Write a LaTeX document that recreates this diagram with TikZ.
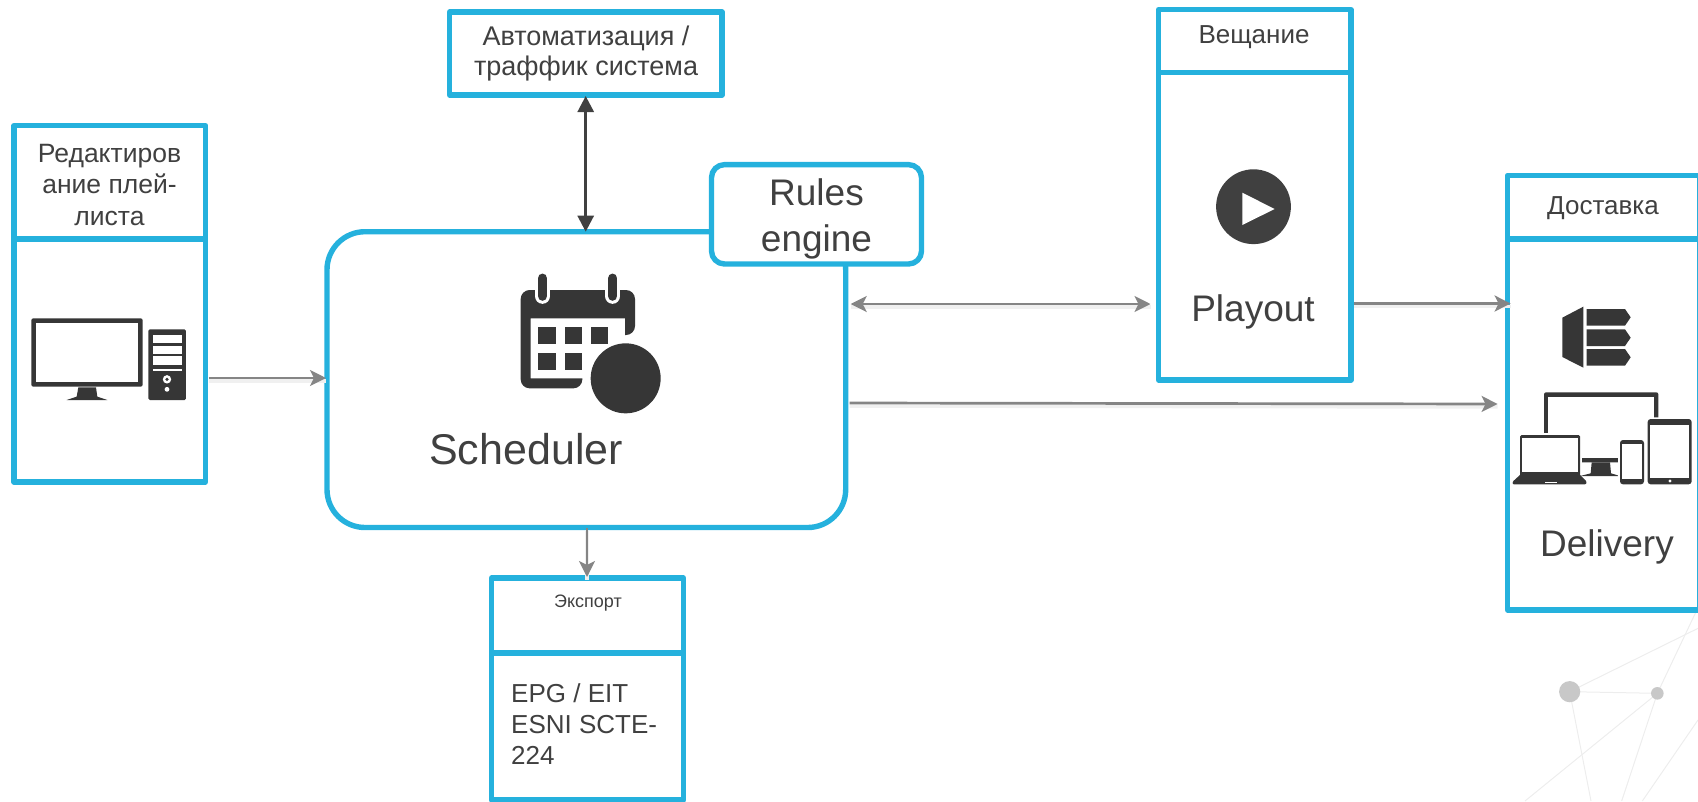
\documentclass[tikz,border=0pt]{standalone}
\usepackage{fontspec}
\setmainfont{Liberation Sans}
\usetikzlibrary{arrows.meta,fit}
\definecolor{bluec}{HTML}{25B1DD}
\definecolor{textc}{HTML}{404040}
\definecolor{greyc}{HTML}{858585}
\definecolor{iconc}{HTML}{363636}
\definecolor{decoc}{HTML}{EDEDED}
\definecolor{dotc}{HTML}{C8C8C8}
\tikzset{
  boxn/.style={draw=bluec,line width=5.4pt,fill=white,inner sep=0pt,outer sep=0pt,line join=round},
  roundn/.style={boxn,rounded corners=#1},
  divider/.style={draw=bluec,line width=5.4pt},
  lab/.style 2 args={text=textc,align=center,inner sep=0pt,font=\fontsize{#1}{#2}\selectfont},
  labl/.style={text=textc,align=left,inner sep=0pt,font=\fontsize{26}{31}\selectfont},
  garrow/.style={draw=greyc,line width=2.7pt,-{Stealth[length=16pt,width=16pt,inset=4pt]},
    preaction={draw=black!6,line width=3.5pt,arrows=-,transform canvas={yshift=-3pt}}},
  garrowb/.style={draw=greyc,line width=2.7pt,{Stealth[length=16pt,width=16pt,inset=4pt]}-{Stealth[length=16pt,width=16pt,inset=4pt]},
    preaction={draw=black!6,line width=3.5pt,arrows=-,transform canvas={yshift=-3pt}}},
  darrow/.style={draw=textc,line width=2.7pt,{Triangle[length=16pt,width=16pt]}-{Triangle[length=16pt,width=16pt]}},
  icon/.style={fill=iconc,draw=none},
  whitef/.style={fill=white,draw=none},
  deco/.style={draw=decoc,line width=1pt},
  dot/.style={fill=dotc,draw=none},
}
\begin{document}
\begin{tikzpicture}[x=1pt,y=-1pt]
\useasboundingbox (0,0) rectangle (1698,801);
% background network
\begin{scope}[shift={(1480,600)},x=0.33333pt,y=-0.33333pt]
  \coordinate (big) at (269,275);
  \coordinate (small) at (532,280);
  \draw[deco] (big) -- (small);
  \draw[deco] (big) -- (654,85);
  \draw[deco] (big) -- (333,603);
  \draw[deco] (small) -- (660,10);
  \draw[deco] (small) -- (135,603);
  \draw[deco] (small) -- (425,603);
  \draw[deco] (487,603) -- (654,360);
  \fill[dot] (big) circle (10.6pt);
  \fill[dot] (small) circle (6.3pt);
\end{scope}
% boxes
\node[boxn,fit={(14,125.6)(205.5,482)}] (edit) {};
\node[boxn,fit={(449.5,12)(722,95)}] (auto) {};
\node[roundn=38pt,fit={(327,231.7)(845.7,527.5)}] (sched) {};
\node[roundn=13pt,fit={(711.5,164.6)(921.5,264)}] (rules) {};
\node[boxn,fit={(1158.5,9.7)(1351,380)}] (play) {};
\node[boxn,fit={(1507.6,175.4)(1699.5,610)}] (deliv) {};
\node[boxn,fit={(491.6,578)(683.3,800)}] (export) {};
% dividers
\draw[divider] (edit.west |- 0,239) -- (edit.east |- 0,239);
\draw[divider] (play.west |- 0,72.5) -- (play.east |- 0,72.5);
\draw[divider] (deliv.west |- 0,239) -- (deliv.east |- 0,239);
\draw[divider] (export.west |- 0,653) -- (export.east |- 0,653);
% connectors
\draw[garrow,shorten <=3pt,shorten >=1pt] (edit.east |- 0,378) -- (sched.west |- 0,378);
\draw[darrow,shorten <=1pt,shorten >=0pt] (auto.south -| 585.7,0) -- (sched.north -| 585.7,0);
\draw[garrowb,shorten <=5pt,shorten >=8pt] (sched.east |- 0,304) -- (play.west |- 0,304);
\draw[garrow,shorten <=3pt,shorten >=-3pt] (play.east |- 0,303.5) -- (deliv.west |- 0,303.5);
\draw[garrow,shorten <=4pt,shorten >=10pt] (sched.east |- 0,403) -- (deliv.west |- 0,404);
\draw[garrow,shorten >=1pt] (sched.south -| 587,0) -- (export.north -| 587,0);
% texts
\node[lab={26.5}{31.5}] (t1) at (109.5,185) {Редактиров\\ание плей-\\листа};
\node[lab={27}{30}] (t2) at (586,54) {Автоматизация /\\траффик система};
\node[lab={26}{32}] (t3) at (1254,37) {Вещание};
\node[lab={26}{30}] (t4) at (1603,208) {Доставка};
\node[lab={18}{22}] (t5) at (588,603) {Экспорт};
\node[lab={37}{46}] (t6) at (816.5,219) {Rules\\engine};
\node[lab={43}{50}] (t7) at (526,449) {Scheduler};
\node[lab={37}{46}] (t8) at (1253,312) {Playout};
\node[lab={37}{46}] (t9) at (1607,547) {Delivery};
\node[labl,anchor=west] (t10) at (511,724.5) {EPG / EIT\\ESNI SCTE-\\224};
% computer icon
\begin{scope}[shift={(0,250)},x=0.33333pt,y=-0.33333pt]
  \fill[icon,rounded corners=2pt] (94,205) rectangle (428,410);
  \fill[whitef] (108,220) rectangle (415,395);
  \fill[icon] (235,412) -- (288,412) -- (292,440) -- (322,450) -- (200,450) -- (230,440) -- cycle;
  \fill[icon,rounded corners=1.5pt] (445,238) rectangle (558,450);
  \fill[whitef] (460,255) rectangle (545,280);
  \fill[whitef] (460,287) rectangle (545,312);
  \fill[whitef] (460,318) rectangle (545,345);
  \fill[whitef] (460,358) rectangle (545,362);
  \fill[whitef] (501,388) circle (4.2pt);
  \fill[icon] (501,388) circle (1.8pt);
  \fill[whitef] (501,418) circle (2.4pt);
\end{scope}
% calendar icon
\begin{scope}[shift={(500,230)},x=0.33333pt,y=-0.33333pt]
  \fill[icon] (375,315) [rounded corners=9pt] -- (405,315) -- (405,180) -- (62,180) -- (62,475) -- (247,475) [sharp corners] -- (247,445) -- (92,445) -- (92,265) -- (375,265) -- cycle;
  \fill[icon] (115,290) rectangle (168,343);
  \fill[icon] (194,290) rectangle (247,343);
  \fill[icon] (272,290) rectangle (325,343);
  \fill[icon] (115,368) rectangle (168,421);
  \fill[icon] (194,368) rectangle (247,421);
  \draw[white,line width=15.6pt,line cap=round] (127.5,145) -- (127.5,198);
  \draw[white,line width=15.6pt,line cap=round] (338,145) -- (338,198);
  \draw[iconc,line width=9.6pt,line cap=round] (127.5,145) -- (127.5,198);
  \draw[iconc,line width=9.6pt,line cap=round] (338,145) -- (338,198);
  \fill[whitef] (377,445) circle (36.5pt);
  \fill[icon] (377,445) circle (35pt);
\end{scope}
% play icon
\fill[textc] (1253.5,206.7) circle (37.4pt);
\fill[whitef] (1242.3,192.7) -- (1274.6,209) -- (1242.3,225) -- cycle;
% delivery icons
\begin{scope}[shift={(1500,295)},x=0.33333pt,y=-0.33333pt]
  \fill[icon] (187,68) -- (250,35) -- (250,218) -- (187,186) -- cycle;
  \fill[icon] (260,42) -- (375,42) -- (392,67) -- (375,92) -- (260,92) -- cycle;
  \fill[icon] (260,103) -- (375,103) -- (392,128) -- (375,153) -- (260,153) -- cycle;
  \fill[icon] (260,162) -- (375,162) -- (392,187) -- (375,212) -- (260,212) -- cycle;
  % monitor
  \fill[icon,rounded corners=2pt] (132,292) rectangle (475,502);
  \fill[whitef] (145,305) rectangle (462,490);
  \fill[icon] (275,502) -- (330,502) -- (333,535) -- (360,543) -- (240,543) -- (272,535) -- cycle;
  % laptop
  \fill[whitef] (54,414) rectangle (246,540);
  \fill[icon,rounded corners=1.5pt] (60,420) rectangle (240,545);
  \fill[whitef] (67,428) rectangle (233,530);
  \fill[icon,rounded corners=1pt] (62,538) -- (238,538) -- (260,560) -- (258,568) -- (38,568) -- (38,560) -- cycle;
  \fill[whitef] (135,560) rectangle (170,565);
  % phone
  \fill[whitef,rounded corners=3pt] (354,429) rectangle (438,574);
  \fill[icon,rounded corners=3pt] (360,435) rectangle (432,568);
  \fill[whitef] (366,447) rectangle (426,553);
  % tablet
  \fill[whitef,rounded corners=3pt] (438,367) rectangle (580,574);
  \fill[icon,rounded corners=3pt] (443,372) rectangle (575,568);
  \fill[whitef] (450,390) rectangle (568,548);
  \fill[whitef] (510,558) circle (1.7pt);
\end{scope}
\end{tikzpicture}
\end{document}
